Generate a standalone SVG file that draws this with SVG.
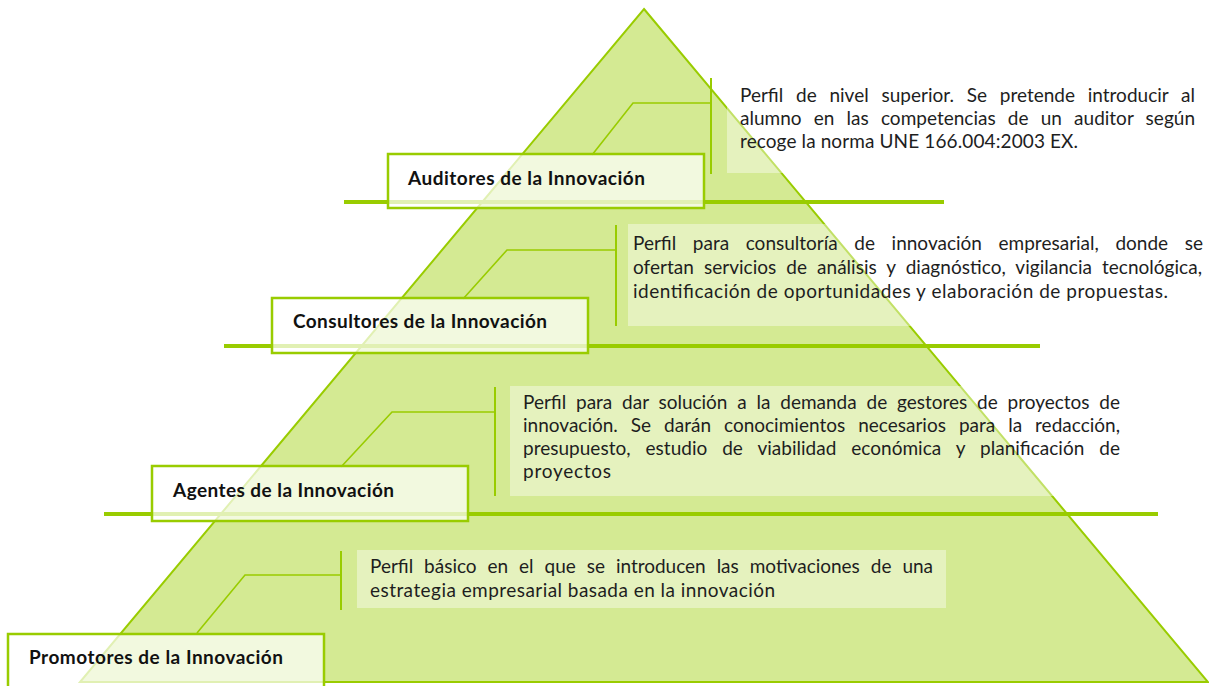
<svg xmlns="http://www.w3.org/2000/svg" width="1209" height="686" viewBox="0 0 1209 686">
<style>
.tri{fill:#d4ea93;stroke:#99cc00;stroke-width:2}
.hl{stroke:#99cc00;stroke-width:4;fill:none}
.tb{fill:#ffffff;fill-opacity:0.4}
.cn{stroke:#99cc00;stroke-width:1.6;fill:none}
.bar{stroke:#99cc00;stroke-width:2;fill:none}
.lb{fill:#ffffff;fill-opacity:0.7;stroke:#99cc00;stroke-width:2.5}
.lt{font-family:Lato,"Liberation Sans",sans-serif;font-weight:bold;font-size:19px;fill:#111}
.dt{font-family:Lato,"Liberation Sans",sans-serif;font-size:19px;fill:#1e1e1e}
</style>
<rect width="1209" height="686" fill="#ffffff"/>
<polygon class="tri" points="644,9 1208,682 80,682"/>
<g id="levels">
<line class="hl" x1="344" y1="202" x2="944" y2="202"/>
<line class="hl" x1="224" y1="346" x2="1040" y2="346"/>
<line class="hl" x1="104" y1="514" x2="1158" y2="514"/>
</g>
<g id="desc-auditores">
<rect class="tb" x="727" y="78" width="475" height="95"/>
<text class="dt"><tspan x="740" y="102" word-spacing="7.9" textLength="455" lengthAdjust="spacing">Perfil de nivel superior. Se pretende introducir al</tspan><tspan x="740" y="125" word-spacing="7.3" textLength="455" lengthAdjust="spacing">alumno en las competencias de un auditor según</tspan><tspan x="740" y="148" textLength="338" lengthAdjust="spacing">recoge la norma UNE 166.004:2003 EX.</tspan></text>
</g>
<g id="desc-consultores">
<rect class="tb" x="628" y="224" width="578" height="102"/>
<text class="dt"><tspan x="633" y="250" word-spacing="11.7" textLength="570" lengthAdjust="spacing">Perfil para consultoría de innovación empresarial, donde se</tspan><tspan x="633" y="274" word-spacing="5.1" textLength="569" lengthAdjust="spacing">ofertan servicios de análisis y diagnóstico, vigilancia tecnológica,</tspan><tspan x="633" y="298" textLength="535" lengthAdjust="spacing">identificación de oportunidades y elaboración de propuestas.</tspan></text>
</g>
<g id="desc-agentes">
<rect class="tb" x="510" y="386" width="622" height="110"/>
<text class="dt"><tspan x="523" y="409" word-spacing="5" textLength="597" lengthAdjust="spacing">Perfil para dar solución a la demanda de gestores de proyectos de</tspan><tspan x="523" y="432" word-spacing="8.1" textLength="597" lengthAdjust="spacing">innovación. Se darán conocimientos necesarios para la redacción,</tspan><tspan x="523" y="455" word-spacing="10.1" textLength="597" lengthAdjust="spacing">presupuesto, estudio de viabilidad económica y planificación de</tspan><tspan x="523" y="478" textLength="88" lengthAdjust="spacing">proyectos</tspan></text>
</g>
<g id="desc-promotores">
<rect class="tb" x="357" y="550" width="589" height="58"/>
<text class="dt"><tspan x="370" y="573" word-spacing="6.1" textLength="563" lengthAdjust="spacing">Perfil básico en el que se introducen las motivaciones de una</tspan><tspan x="370" y="597" textLength="405" lengthAdjust="spacing">estrategia empresarial basada en la innovación</tspan></text>
</g>
<g id="connectors">
<polyline class="cn" points="592,155 633,103 711,103"/>
<line class="bar" x1="711" y1="78" x2="711" y2="174"/>
<polyline class="cn" points="463,299 507,250 616,250"/>
<line class="bar" x1="616" y1="225" x2="616" y2="326"/>
<polyline class="cn" points="341,467 392,412 495,412"/>
<line class="bar" x1="495" y1="387" x2="495" y2="496"/>
<polyline class="cn" points="197,633 245,575 341,575"/>
<line class="bar" x1="341" y1="551" x2="341" y2="610"/>
</g>
<g id="node-auditores">
<rect class="lb" x="388" y="154" width="316" height="54"/>
<text class="lt" x="408" y="185" textLength="237" lengthAdjust="spacing">Auditores de la Innovación</text>
</g>
<g id="node-consultores">
<rect class="lb" x="272" y="298" width="316" height="55"/>
<text class="lt" x="293" y="328" textLength="254" lengthAdjust="spacing">Consultores de la Innovación</text>
</g>
<g id="node-agentes">
<rect class="lb" x="152" y="466" width="316" height="55"/>
<text class="lt" x="173" y="497" textLength="221" lengthAdjust="spacing">Agentes de la Innovación</text>
</g>
<g id="node-promotores">
<rect class="lb" x="8" y="634" width="316" height="60"/>
<text class="lt" x="29" y="664" textLength="254" lengthAdjust="spacing">Promotores de la Innovación</text>
</g>
</svg>
